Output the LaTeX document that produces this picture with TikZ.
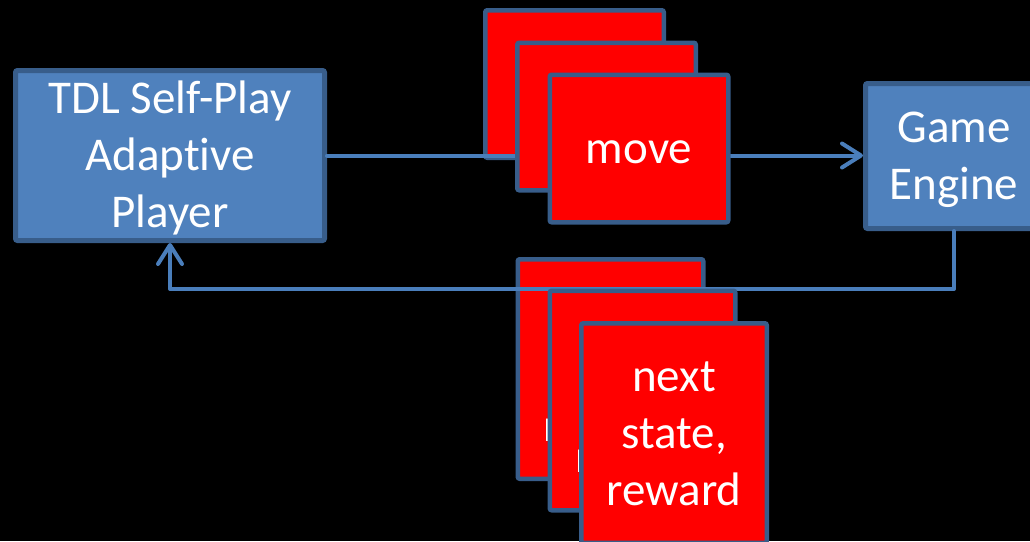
\documentclass[tikz,border=0pt]{standalone}
\usepackage{fontspec}
\setmainfont{Carlito}[Ligatures=NoCommon]
\usetikzlibrary{arrows.meta}

\definecolor{panelfill}{HTML}{4F81BD}
\definecolor{paneledge}{HTML}{385D8A}
\definecolor{cardred}{HTML}{FF0000}
\definecolor{wireblue}{HTML}{4A7EBB}

\begin{document}
\begin{tikzpicture}[x=1pt, y=-1pt,
  panel/.style={draw=paneledge, line width=5pt, fill=panelfill,
    rounded corners=2pt, inner sep=0pt},
  topcard/.style={draw=paneledge, line width=4.5pt, fill=cardred,
    rounded corners=2pt, inner sep=0pt,
    minimum width=178.5pt, minimum height=147.5pt},
  lowcard/.style={draw=paneledge, line width=4.5pt, fill=cardred,
    rounded corners=2pt, inner sep=0pt,
    minimum width=185.5pt, minimum height=219.5pt},
  txt/.style={text=white, align=center, inner sep=0pt, yshift=-4pt,
    font=\fontsize{47}{57}\selectfont},
  wire/.style={draw=wireblue, line width=4pt, line cap=round, line join=round,
    -{Straight Barb[length=19pt, width=24pt, round]}},
]
  % canvas
  \path[use as bounding box, fill=black] (0,0) rectangle (1030,541);

  % the two main blocks (the kern keeps "t" and "i" as separate glyphs)
  \node[panel, minimum width=309pt, minimum height=170pt,
    label={[txt]center:\strut TDL Self-Play\\\strut Adapt\kern0pt ive\\\strut Player}]
    (tdl) at (170,155.5) {};
  \node[panel, minimum width=177pt, minimum height=145pt,
    label={[txt]center:\strut Game\\\strut Engine}]
    (engine) at (954,156) {};

  % rearmost cards of each stack
  \node[topcard, label={[txt]center:\strut move}] (mvA) at (574.5,84) {};
  \node[lowcard, label={[txt]center:\strut next\\\strut state,\\\strut reward}]
    (nsA) at (610.5,369) {};

  % connectors
  \coordinate (fbrow) at (0,289);
  \draw[wire] (tdl.east) -- (tdl.east -| engine.west);
  \draw[wire] (engine.south) -- (engine.south |- fbrow) -| (tdl.south);

  % middle and front cards
  \node[topcard, label={[txt]center:\strut move}] (mvB) at (606.5,116.5) {};
  \node[topcard, label={[txt]center:\strut move}] (mvC) at (639,148.5) {};
  \node[lowcard, label={[txt]center:\strut next\\\strut state,\\\strut reward}]
    (nsB) at (642.5,400.5) {};
  \node[lowcard, label={[txt]center:\strut next\\\strut state,\\\strut reward}]
    (nsC) at (674,433) {};
\end{tikzpicture}
\end{document}
